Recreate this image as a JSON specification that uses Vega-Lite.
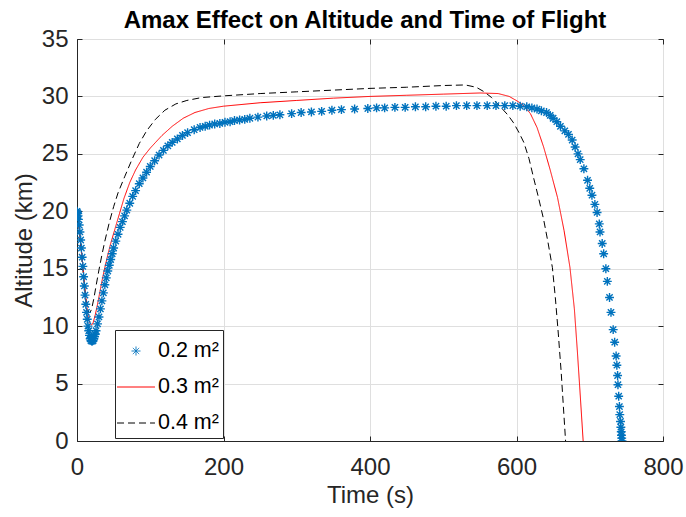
{
  "$schema": "https://vega.github.io/schema/vega-lite/v6.json",
  "autosize": "none",
  "width": 586,
  "height": 402,
  "padding": {"left": 77, "top": 39, "right": 23, "bottom": 76},
  "title": {"text": "Amax Effect on Altitude and Time of Flight", "fontSize": 24, "fontWeight": "bold", "font": "Liberation Sans", "color": "#000000", "offset": -6, "dx": -5},
  "config": {
    "font": "Liberation Sans",
    "view": {"stroke": "#262626", "strokeWidth": 1},
    "axis": {"labelFont": "Liberation Sans", "titleFont": "Liberation Sans", "labelFontSize": 24, "titleFontSize": 24, "titleFontWeight": "normal", "labelColor": "#262626", "titleColor": "#262626", "domainColor": "#262626", "tickColor": "#262626", "gridColor": "#dfdfdf", "tickSize": -5, "labelFlush": false, "labelOverlap": false}
  },
  "resolve": {"axis": {"x": "independent", "y": "independent"}},
  "datasets": {
    "s02": [
      {"t":0,"alt":20,"series":"0.2 m²"},{"t":0.5,"alt":19.9,"series":"0.2 m²"},{"t":1,"alt":19.8,"series":"0.2 m²"},{"t":1.5,"alt":19.6,"series":"0.2 m²"},{"t":2,"alt":19.3,"series":"0.2 m²"},{"t":3,"alt":18.8,"series":"0.2 m²"},{"t":4,"alt":18.2,"series":"0.2 m²"},{"t":5,"alt":17.5,"series":"0.2 m²"},{"t":6,"alt":16.8,"series":"0.2 m²"},{"t":7,"alt":16.0,"series":"0.2 m²"},{"t":8,"alt":15.2,"series":"0.2 m²"},{"t":9,"alt":14.3,"series":"0.2 m²"},{"t":10,"alt":13.5,"series":"0.2 m²"},{"t":11,"alt":12.7,"series":"0.2 m²"},{"t":12,"alt":11.9,"series":"0.2 m²"},{"t":13,"alt":11.2,"series":"0.2 m²"},{"t":14,"alt":10.6,"series":"0.2 m²"},{"t":15,"alt":10.0,"series":"0.2 m²"},{"t":16,"alt":9.6,"series":"0.2 m²"},{"t":17,"alt":9.2,"series":"0.2 m²"},{"t":18,"alt":8.9,"series":"0.2 m²"},{"t":19,"alt":8.75,"series":"0.2 m²"},{"t":20,"alt":8.7,"series":"0.2 m²"},{"t":21,"alt":8.7,"series":"0.2 m²"},{"t":22,"alt":8.75,"series":"0.2 m²"},{"t":23,"alt":8.9,"series":"0.2 m²"},{"t":24,"alt":9.1,"series":"0.2 m²"},{"t":25,"alt":9.3,"series":"0.2 m²"},{"t":26,"alt":9.6,"series":"0.2 m²"},{"t":28,"alt":10.2,"series":"0.2 m²"},{"t":30,"alt":10.8,"series":"0.2 m²"},{"t":32,"alt":11.5,"series":"0.2 m²"},{"t":34,"alt":12.2,"series":"0.2 m²"},{"t":36,"alt":12.9,"series":"0.2 m²"},{"t":38,"alt":13.6,"series":"0.2 m²"},{"t":40,"alt":14.2,"series":"0.2 m²"},{"t":42,"alt":14.8,"series":"0.2 m²"},{"t":44,"alt":15.3,"series":"0.2 m²"},{"t":46,"alt":15.8,"series":"0.2 m²"},{"t":48,"alt":16.3,"series":"0.2 m²"},{"t":50,"alt":16.8,"series":"0.2 m²"},{"t":53,"alt":17.4,"series":"0.2 m²"},{"t":56,"alt":18.0,"series":"0.2 m²"},{"t":59,"alt":18.6,"series":"0.2 m²"},{"t":62,"alt":19.1,"series":"0.2 m²"},{"t":65,"alt":19.6,"series":"0.2 m²"},{"t":68,"alt":20.1,"series":"0.2 m²"},{"t":72,"alt":20.7,"series":"0.2 m²"},{"t":76,"alt":21.3,"series":"0.2 m²"},{"t":80,"alt":21.8,"series":"0.2 m²"},{"t":85,"alt":22.4,"series":"0.2 m²"},{"t":90,"alt":22.9,"series":"0.2 m²"},{"t":95,"alt":23.4,"series":"0.2 m²"},{"t":100,"alt":23.9,"series":"0.2 m²"},{"t":106,"alt":24.4,"series":"0.2 m²"},{"t":112,"alt":24.9,"series":"0.2 m²"},{"t":118,"alt":25.3,"series":"0.2 m²"},{"t":124,"alt":25.7,"series":"0.2 m²"},{"t":130,"alt":26.0,"series":"0.2 m²"},{"t":137,"alt":26.3,"series":"0.2 m²"},{"t":144,"alt":26.6,"series":"0.2 m²"},{"t":151,"alt":26.85,"series":"0.2 m²"},{"t":160,"alt":27.1,"series":"0.2 m²"},{"t":168,"alt":27.3,"series":"0.2 m²"},{"t":175,"alt":27.4,"series":"0.2 m²"},{"t":181,"alt":27.5,"series":"0.2 m²"},{"t":188,"alt":27.6,"series":"0.2 m²"},{"t":195,"alt":27.65,"series":"0.2 m²"},{"t":202,"alt":27.75,"series":"0.2 m²"},{"t":209,"alt":27.8,"series":"0.2 m²"},{"t":215,"alt":27.9,"series":"0.2 m²"},{"t":222,"alt":27.95,"series":"0.2 m²"},{"t":229,"alt":28.0,"series":"0.2 m²"},{"t":236,"alt":28.1,"series":"0.2 m²"},{"t":247,"alt":28.2,"series":"0.2 m²"},{"t":259,"alt":28.3,"series":"0.2 m²"},{"t":268,"alt":28.35,"series":"0.2 m²"},{"t":277,"alt":28.4,"series":"0.2 m²"},{"t":293,"alt":28.5,"series":"0.2 m²"},{"t":306,"alt":28.6,"series":"0.2 m²"},{"t":320,"alt":28.65,"series":"0.2 m²"},{"t":334,"alt":28.7,"series":"0.2 m²"},{"t":348,"alt":28.8,"series":"0.2 m²"},{"t":361,"alt":28.85,"series":"0.2 m²"},{"t":379,"alt":28.9,"series":"0.2 m²"},{"t":397,"alt":28.95,"series":"0.2 m²"},{"t":409,"alt":29.0,"series":"0.2 m²"},{"t":420,"alt":29.0,"series":"0.2 m²"},{"t":434,"alt":29.05,"series":"0.2 m²"},{"t":448,"alt":29.05,"series":"0.2 m²"},{"t":462,"alt":29.1,"series":"0.2 m²"},{"t":476,"alt":29.1,"series":"0.2 m²"},{"t":490,"alt":29.15,"series":"0.2 m²"},{"t":504,"alt":29.15,"series":"0.2 m²"},{"t":518,"alt":29.2,"series":"0.2 m²"},{"t":532,"alt":29.2,"series":"0.2 m²"},{"t":546,"alt":29.2,"series":"0.2 m²"},{"t":560,"alt":29.2,"series":"0.2 m²"},{"t":572,"alt":29.2,"series":"0.2 m²"},{"t":584,"alt":29.2,"series":"0.2 m²"},{"t":595,"alt":29.2,"series":"0.2 m²"},{"t":605,"alt":29.15,"series":"0.2 m²"},{"t":614,"alt":29.1,"series":"0.2 m²"},{"t":621,"alt":29.0,"series":"0.2 m²"},{"t":628,"alt":28.9,"series":"0.2 m²"},{"t":634,"alt":28.75,"series":"0.2 m²"},{"t":641,"alt":28.6,"series":"0.2 m²"},{"t":646,"alt":28.35,"series":"0.2 m²"},{"t":650,"alt":28.1,"series":"0.2 m²"},{"t":655,"alt":27.8,"series":"0.2 m²"},{"t":660,"alt":27.4,"series":"0.2 m²"},{"t":666,"alt":27.0,"series":"0.2 m²"},{"t":671,"alt":26.7,"series":"0.2 m²"},{"t":676,"alt":26.2,"series":"0.2 m²"},{"t":680,"alt":25.6,"series":"0.2 m²"},{"t":684,"alt":25.0,"series":"0.2 m²"},{"t":687,"alt":24.5,"series":"0.2 m²"},{"t":692,"alt":23.7,"series":"0.2 m²"},{"t":697,"alt":22.7,"series":"0.2 m²"},{"t":700,"alt":22.0,"series":"0.2 m²"},{"t":703,"alt":21.4,"series":"0.2 m²"},{"t":707,"alt":20.6,"series":"0.2 m²"},{"t":710,"alt":19.9,"series":"0.2 m²"},{"t":713,"alt":18.9,"series":"0.2 m²"},{"t":714,"alt":18.2,"series":"0.2 m²"},{"t":717,"alt":17.2,"series":"0.2 m²"},{"t":719,"alt":16.3,"series":"0.2 m²"},{"t":722,"alt":15.0,"series":"0.2 m²"},{"t":724,"alt":13.9,"series":"0.2 m²"},{"t":727,"alt":12.5,"series":"0.2 m²"},{"t":729,"alt":11.2,"series":"0.2 m²"},{"t":732,"alt":9.7,"series":"0.2 m²"},{"t":734,"alt":8.6,"series":"0.2 m²"},{"t":736,"alt":7.4,"series":"0.2 m²"},{"t":737,"alt":6.6,"series":"0.2 m²"},{"t":738,"alt":5.7,"series":"0.2 m²"},{"t":738.5,"alt":4.9,"series":"0.2 m²"},{"t":739.5,"alt":3.9,"series":"0.2 m²"},{"t":740.5,"alt":3.0,"series":"0.2 m²"},{"t":741,"alt":2.3,"series":"0.2 m²"},{"t":742,"alt":1.7,"series":"0.2 m²"},{"t":742.5,"alt":1.2,"series":"0.2 m²"},{"t":743,"alt":0.8,"series":"0.2 m²"},{"t":743.3,"alt":0.5,"series":"0.2 m²"},{"t":743.6,"alt":0.25,"series":"0.2 m²"},{"t":744,"alt":0.0,"series":"0.2 m²"}
    ],
    "s03": [
      {"t":0,"alt":20,"series":"0.3 m²"},{"t":2,"alt":19.2,"series":"0.3 m²"},{"t":4,"alt":18.0,"series":"0.3 m²"},{"t":6,"alt":16.6,"series":"0.3 m²"},{"t":8,"alt":15.2,"series":"0.3 m²"},{"t":10,"alt":13.8,"series":"0.3 m²"},{"t":12,"alt":12.5,"series":"0.3 m²"},{"t":14,"alt":11.4,"series":"0.3 m²"},{"t":16,"alt":10.6,"series":"0.3 m²"},{"t":18,"alt":10.2,"series":"0.3 m²"},{"t":20,"alt":10.1,"series":"0.3 m²"},{"t":22,"alt":10.3,"series":"0.3 m²"},{"t":25,"alt":11.0,"series":"0.3 m²"},{"t":28,"alt":11.9,"series":"0.3 m²"},{"t":31,"alt":12.9,"series":"0.3 m²"},{"t":34,"alt":13.9,"series":"0.3 m²"},{"t":38,"alt":15.1,"series":"0.3 m²"},{"t":42,"alt":16.2,"series":"0.3 m²"},{"t":46,"alt":17.2,"series":"0.3 m²"},{"t":52,"alt":18.5,"series":"0.3 m²"},{"t":58,"alt":19.8,"series":"0.3 m²"},{"t":64,"alt":21.1,"series":"0.3 m²"},{"t":72,"alt":22.5,"series":"0.3 m²"},{"t":80,"alt":23.6,"series":"0.3 m²"},{"t":90,"alt":24.7,"series":"0.3 m²"},{"t":100,"alt":25.5,"series":"0.3 m²"},{"t":116,"alt":26.6,"series":"0.3 m²"},{"t":130,"alt":27.4,"series":"0.3 m²"},{"t":145,"alt":28.1,"series":"0.3 m²"},{"t":161,"alt":28.6,"series":"0.3 m²"},{"t":180,"alt":28.95,"series":"0.3 m²"},{"t":200,"alt":29.15,"series":"0.3 m²"},{"t":250,"alt":29.45,"series":"0.3 m²"},{"t":300,"alt":29.65,"series":"0.3 m²"},{"t":350,"alt":29.85,"series":"0.3 m²"},{"t":400,"alt":30.0,"series":"0.3 m²"},{"t":450,"alt":30.1,"series":"0.3 m²"},{"t":500,"alt":30.2,"series":"0.3 m²"},{"t":550,"alt":30.3,"series":"0.3 m²"},{"t":575,"alt":30.25,"series":"0.3 m²"},{"t":590,"alt":30.0,"series":"0.3 m²"},{"t":601,"alt":29.6,"series":"0.3 m²"},{"t":610,"alt":29.2,"series":"0.3 m²"},{"t":619,"alt":28.5,"series":"0.3 m²"},{"t":628,"alt":27.3,"series":"0.3 m²"},{"t":637,"alt":25.6,"series":"0.3 m²"},{"t":646,"alt":23.6,"series":"0.3 m²"},{"t":656,"alt":21.2,"series":"0.3 m²"},{"t":665,"alt":18.3,"series":"0.3 m²"},{"t":673,"alt":15.1,"series":"0.3 m²"},{"t":679,"alt":11.5,"series":"0.3 m²"},{"t":683,"alt":7.9,"series":"0.3 m²"},{"t":687,"alt":4.0,"series":"0.3 m²"},{"t":691,"alt":0,"series":"0.3 m²"}
    ],
    "s04": [
      {"t":0,"alt":20,"series":"0.4 m²"},{"t":2,"alt":19.1,"series":"0.4 m²"},{"t":4,"alt":17.8,"series":"0.4 m²"},{"t":6,"alt":16.4,"series":"0.4 m²"},{"t":8,"alt":15.0,"series":"0.4 m²"},{"t":10,"alt":13.6,"series":"0.4 m²"},{"t":12,"alt":12.4,"series":"0.4 m²"},{"t":14,"alt":11.6,"series":"0.4 m²"},{"t":16,"alt":11.2,"series":"0.4 m²"},{"t":18,"alt":11.2,"series":"0.4 m²"},{"t":20,"alt":11.5,"series":"0.4 m²"},{"t":23,"alt":12.4,"series":"0.4 m²"},{"t":26,"alt":13.5,"series":"0.4 m²"},{"t":30,"alt":14.9,"series":"0.4 m²"},{"t":34,"alt":16.2,"series":"0.4 m²"},{"t":38,"alt":17.4,"series":"0.4 m²"},{"t":44,"alt":19.0,"series":"0.4 m²"},{"t":50,"alt":20.4,"series":"0.4 m²"},{"t":56,"alt":21.6,"series":"0.4 m²"},{"t":65,"alt":23.0,"series":"0.4 m²"},{"t":75,"alt":24.5,"series":"0.4 m²"},{"t":85,"alt":25.9,"series":"0.4 m²"},{"t":95,"alt":27.0,"series":"0.4 m²"},{"t":107,"alt":28.0,"series":"0.4 m²"},{"t":120,"alt":28.8,"series":"0.4 m²"},{"t":135,"alt":29.35,"series":"0.4 m²"},{"t":150,"alt":29.65,"series":"0.4 m²"},{"t":170,"alt":29.9,"series":"0.4 m²"},{"t":200,"alt":30.05,"series":"0.4 m²"},{"t":250,"alt":30.25,"series":"0.4 m²"},{"t":300,"alt":30.4,"series":"0.4 m²"},{"t":350,"alt":30.55,"series":"0.4 m²"},{"t":400,"alt":30.7,"series":"0.4 m²"},{"t":450,"alt":30.8,"series":"0.4 m²"},{"t":500,"alt":30.95,"series":"0.4 m²"},{"t":530,"alt":31.0,"series":"0.4 m²"},{"t":545,"alt":30.8,"series":"0.4 m²"},{"t":556,"alt":30.4,"series":"0.4 m²"},{"t":566,"alt":29.9,"series":"0.4 m²"},{"t":578,"alt":29.1,"series":"0.4 m²"},{"t":588,"alt":28.4,"series":"0.4 m²"},{"t":596,"alt":27.7,"series":"0.4 m²"},{"t":603,"alt":26.9,"series":"0.4 m²"},{"t":610,"alt":26.0,"series":"0.4 m²"},{"t":617,"alt":24.6,"series":"0.4 m²"},{"t":623,"alt":23.0,"series":"0.4 m²"},{"t":630,"alt":21.2,"series":"0.4 m²"},{"t":637,"alt":19.3,"series":"0.4 m²"},{"t":643,"alt":17.3,"series":"0.4 m²"},{"t":649,"alt":15.1,"series":"0.4 m²"},{"t":653,"alt":12.5,"series":"0.4 m²"},{"t":657,"alt":9.4,"series":"0.4 m²"},{"t":661,"alt":6.0,"series":"0.4 m²"},{"t":664,"alt":3.0,"series":"0.4 m²"},{"t":667,"alt":0,"series":"0.4 m²"}
    ]
  },
  "encoding": {
    "color": {"field": "series", "type": "nominal", "scale": {"domain": ["0.2 m²", "0.3 m²", "0.4 m²"], "range": ["#0072BD", "#FF0000", "#000000"]},
      "legend": {"title": null, "orient": "none", "legendX": 38, "legendY": 291, "labelFontSize": 21.5, "labelFont": "Liberation Sans", "labelColor": "#000000", "symbolSize": 1089, "symbolStrokeWidth": 1, "strokeColor": "#262626", "fillColor": "#ffffff", "padding": 4, "rowPadding": 8, "labelOffset": 5}},
    "shape": {"field": "series", "type": "nominal", "scale": {"domain": ["0.2 m²", "0.3 m²", "0.4 m²"], "range": ["M-0.27,0L0.27,0M0,-0.27L0,0.27M-0.19,-0.19L0.19,0.19M-0.19,0.19L0.19,-0.19", "M-1.15,0L1.15,0", "M-1.15,0L1.15,0"]}},
    "strokeDash": {"field": "series", "type": "nominal", "scale": {"domain": ["0.2 m²", "0.3 m²", "0.4 m²"], "range": [[1, 0], [1, 0], [7, 4]]}}
  },
  "layer": [
    {"data": {"name": "s04"}, "mark": {"type": "line", "strokeWidth": 1, "clip": true},
     "encoding": {
       "x": {"field": "t", "type": "quantitative", "scale": {"domain": [0, 800], "nice": false}, "axis": {"title": "Time (s)", "values": [0, 200, 400, 600, 800], "grid": true, "labelPadding": 19, "titlePadding": 4}},
       "y": {"field": "alt", "type": "quantitative", "scale": {"domain": [0, 35], "nice": false}, "axis": {"title": "Altitude (km)", "values": [0, 5, 10, 15, 20, 25, 30, 35], "grid": true, "labelPadding": 14, "titlePadding": 5}}
     }},
    {"data": {"name": "s03"}, "mark": {"type": "line", "strokeWidth": 1, "clip": true},
     "encoding": {
       "x": {"field": "t", "type": "quantitative", "axis": null},
       "y": {"field": "alt", "type": "quantitative", "axis": null}
     }},
    {"data": {"name": "s02"}, "mark": {"type": "point", "filled": false, "size": 1089, "strokeWidth": 1.4, "opacity": 1, "clip": true},
     "encoding": {
       "x": {"field": "t", "type": "quantitative", "axis": {"orient": "top", "title": null, "labels": false, "grid": false, "domain": false, "values": [0, 200, 400, 600, 800]}},
       "y": {"field": "alt", "type": "quantitative", "axis": {"orient": "right", "title": null, "labels": false, "grid": false, "domain": false, "values": [0, 5, 10, 15, 20, 25, 30, 35]}}
     }}
  ]
}
